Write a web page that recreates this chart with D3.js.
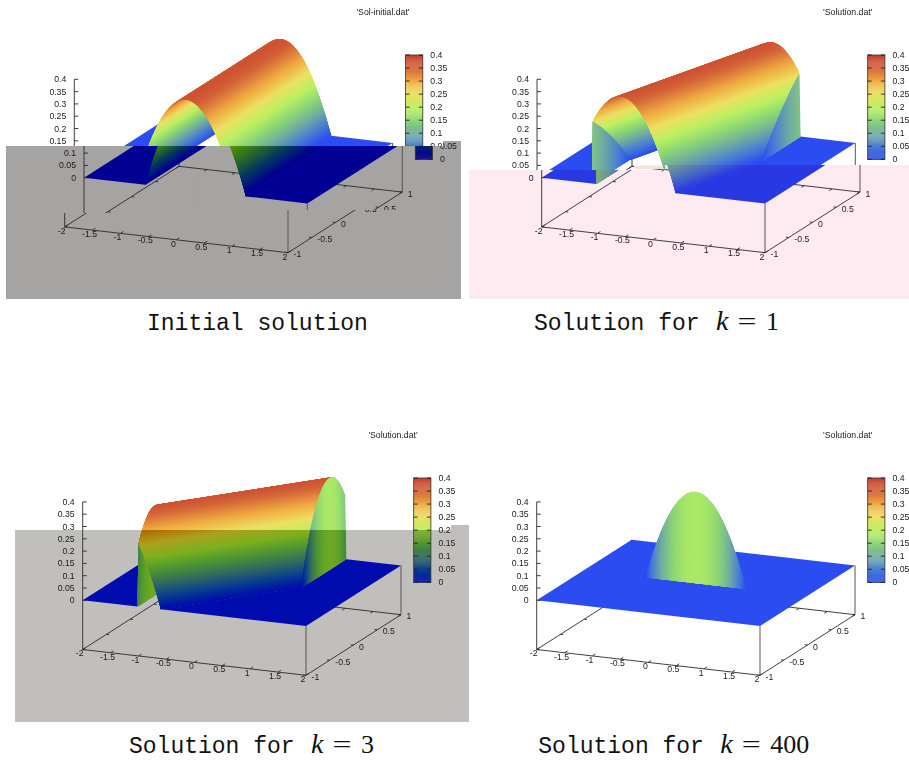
<!DOCTYPE html>
<html>
<head>
<meta charset="utf-8">
<script src="https://cdn.jsdelivr.net/npm/d3@7"></script>
<style>
html,body{margin:0;padding:0;background:#fff;}
svg{display:block;}
.lab{font-family:"Liberation Sans",Arial,sans-serif;font-size:8.7px;fill:#1a1a1a;}
.cap{font-family:"Liberation Mono",monospace;font-size:23px;fill:#111;}
.math{font-family:"Liberation Serif",serif;font-size:26px;fill:#111;}
</style>
</head>
<body>
<svg id="chart" width="909" height="762"></svg>
<script>
// ---- values ----
const xTicks=[-2,-1.5,-1,-0.5,0,0.5,1,1.5,2];
const xLabels=["-2","-1.5","-1","-0.5","0","0.5","1","1.5","2"];
const yTicks=[-1,-0.5,0,0.5,1];
const yLabels=["-1","-0.5","0","0.5","1"];
const zTicks=[0,0.05,0.1,0.15,0.2,0.25,0.3,0.35,0.4];
const zLabels=["0","0.05","0.1","0.15","0.2","0.25","0.3","0.35","0.4"];
const paletteValues=[0,0.05,0.1,0.15,0.2,0.25,0.3,0.35,0.4];
const paletteColors=["#2a4cf0","#4a7fd2","#70aca0","#8cd674","#baf062","#ece062","#f0aa42","#d4663a","#c63a2a"];
// ridge cross-section: height against distance from the crest
const profileX=[-0.9,-0.85,-0.8,-0.75,-0.7,-0.65,-0.6,-0.55,-0.5,-0.45,-0.4,-0.35,-0.3,-0.25,-0.2,-0.15,-0.1,-0.05,0,0.05,0.1,0.15,0.2,0.25,0.3,0.35,0.4,0.45,0.5,0.55,0.6,0.65,0.7,0.75,0.8,0.85,0.9];
const profileZ=[0,0.04,0.078,0.113,0.146,0.177,0.206,0.232,0.256,0.278,0.297,0.314,0.329,0.341,0.352,0.36,0.365,0.369,0.37,0.369,0.365,0.36,0.352,0.341,0.329,0.314,0.297,0.278,0.256,0.232,0.206,0.177,0.146,0.113,0.078,0.04,0];
// crest position (x) against y in each panel
const crestYInitial=[-1,1],  crestXInitial=[0,0];
const crestYK1=[-1,1],       crestXK1=[-0.5,0.5];
const crestYK3=[-1,1],       crestXK3=[-1.5,1.5];
const crestYK400=[-1,-0.01,0,0.01,1], crestXK400=[-9,-9,0,9,9];
const titles=["'Sol-initial.dat'","'Solution.dat'","'Solution.dat'","'Solution.dat'"];
const captions=["Initial solution","Solution for","Solution for","Solution for"];
const captionK=[null,"1","3","400"];

// ---- layout ----
const panels=[
 {id:0,ox:84,oy:177.7,cb:[415.3,55],tx:383,ty:14.5,crestY:crestYInitial,crestX:crestXInitial,
  cap:[147,330],
  bands:[
   {rects:[[0,0,465,141],[0,141,443,146]],dx:-9.7,ov:null},
   {rects:[[6,146,200,213],[200,146,461,210],[443,141,461,146]],dx:0,ov:"#a6a3a3"},
   {rects:[[6,213,461,299],[200,210,461,213]],dx:-19.3,ov:"#a6a3a3"}]},
 {id:1,ox:541.7,oy:177.7,cb:[872.4,55],tx:847.7,ty:14.5,crestY:crestYK1,crestX:crestXK1,
  cap:[534,330],
  bands:[
   {rects:[[465,0,909,165],[465,165,665,170]],dx:-4.7,ov:null},
   {rects:[[469,170,665,299],[665,165,909,299]],dx:0,ov:"#fdebf1"}]},
 {id:2,ox:82.7,oy:600.3,cb:[413.7,478],tx:393,ty:437.5,crestY:crestYK3,crestX:crestXK3,
  cap:[129,753],
  bands:[
   {rects:[[0,340,451,530],[451,340,469,525]],dx:0,ov:null},
   {rects:[[15,530,469,722],[451,525,469,530]],dx:0,ov:"#c1bfbc"}]},
 {id:3,ox:536.7,oy:600.3,cb:[867.7,478],tx:847.7,ty:437.5,crestY:crestYK400,crestX:crestXK400,sheet:true,
  cap:[538.3,753],
  bands:[{rects:[[469,340,909,762]],dx:0,ov:null}]}
];
const ex=[223.3,25.8], ey=[95,-60.6];
const xS=d3.scaleLinear().domain([-2,2]).range([0,1]);
const yS=d3.scaleLinear().domain([-1,1]).range([0,1]);
const zS=d3.scaleLinear().domain([0,0.4]).range([0,98.4]);
const zBase=-0.2, wallFoot=0.02;
const palette=d3.scaleLinear().domain(paletteValues).range(paletteColors).clamp(true);
const profile=d3.scaleLinear().domain(profileX).range(profileZ).clamp(true);
const svg=d3.select("#chart");
const defs=svg.append("defs");

function burn(col,ov){
  if(!ov) return col;
  const a=d3.rgb(col), b=d3.rgb(ov);
  return d3.rgb(Math.max(0,a.r+b.r-255),Math.max(0,a.g+b.g-255),Math.max(0,a.b+b.b-255)).formatHex();
}
function hitsRects(bb,rects){
  return rects.some(r=>bb[0]<r[2]&&bb[2]>r[0]&&bb[1]<r[3]&&bb[3]>r[1]);
}
const quadPath=d3.line();
const lap=5; // each sliver reaches a few slivers ahead so the next ones paint over its edge

function buildCells(p,P){
  const crest=d3.scaleLinear().domain(p.crestY).range(p.crestX);
  const height=(x,y)=>Math.abs(x)>1.001?0:profile(x-crest(y));
  const cells=[];
  const edge=profileX[profileX.length-1];
  const xCols=d3.range(-1,1.0001,0.01);
  if(p.sheet){
    // flat floor, then the thin upright sheet standing on it
    cells.push({pts:[P(-2,1,0),P(2,1,0),P(2,-1,0),P(-2,-1,0)],v:0});
    xCols.forEach((xa,i)=>{
      const xb=xCols[Math.min(i+lap,xCols.length-1)];
      if(xb===xa) return;
      const za=height(xa,0),zb=height(xb,0);
      if(za>0||zb>0) cells.push({pts:[P(xa,0,za),P(xb,0,zb),P(xb,-0.01,0),P(xa,-0.01,0)],v:height(xa+0.005,0)/2});
    });
    return cells;
  }
  const ySteps=d3.range(-1,1.0001,0.01);
  const slope=(p.crestX[1]-p.crestX[0])/(p.crestY[1]-p.crestY[0]);
  // floor on either side of the ridge
  const left=ySteps.map(y=>height(-1,y)>0?-1-wallFoot:crest(y)-edge);
  const right=ySteps.map(y=>height(1,y)>0?1+wallFoot:crest(y)+edge);
  cells.push({pts:[P(-2,-1,0),...ySteps.map((y,i)=>P(Math.max(left[i],-2),y,0)),P(-2,1,0)],v:0});
  cells.push({pts:[P(2,-1,0),...ySteps.map((y,i)=>P(Math.min(right[i],2),y,0)),P(2,1,0)],v:0});
  const wall=(xw,foot)=>{
    ySteps.slice().reverse().forEach((y0,i,rev)=>{
      const y1=rev[Math.min(i+lap,rev.length-1)];
      if(y1===y0) return;
      const z0=height(xw,y0),z1=height(xw,y1);
      if(z0>0||z1>0) cells.push({pts:[P(foot,y0,0),P(xw,y0,z0),P(xw,y1,z1),P(foot,y1,0)],v:height(xw,y0-0.005)/2});
    });
  };
  // upright step at x=-1
  wall(-1,-1-wallFoot);
  // bands running along the crest, far to near
  const yRange=u=>{
    if(slope===0) return [-1,1];
    const a=(-1-u)/slope, b=(1-u)/slope;
    return [Math.max(-1,Math.min(a,b)),Math.min(1,Math.max(a,b))];
  };
  const us=d3.range(-edge,edge+0.0001,0.005);
  us.forEach((ua,i)=>{
    const ub=us[Math.min(i+lap,us.length-1)];
    if(ub===ua) return;
    const za=profile(ua),zb=profile(ub);
    const [a0,a1]=yRange(ua),[b0,b1]=yRange(ub);
    if(a1<=a0||b1<=b0) return;
    const px=(u,y)=>u+crest(y);
    cells.push({pts:[P(px(ua,a0),a0,za),P(px(ub,b0),b0,zb),P(px(ub,b1),b1,zb),P(px(ua,a1),a1,za)],v:profile(ua+0.0025)});
  });
  // upright step at x=1
  wall(1,1+wallFoot);
  return cells;
}

function drawPanel(p){
  const P=(x,y,z)=>[
    p.ox+xS(x)*ex[0]+yS(y)*ey[0],
    p.oy+xS(x)*ex[1]+yS(y)*ey[1]-zS(z)];
  const cells=buildCells(p,P);
  const cbY=d3.scaleLinear().domain([0,0.4]).range([p.cb[1]+104.3,p.cb[1]]);
  const cbRows=d3.range(0,0.4,0.004);

  p.bands.forEach((band,bi)=>{
    const cid=`clip-${p.id}-${bi}`;
    defs.append("clipPath").attr("id",cid).selectAll("rect").data(band.rects).join("rect")
      .attr("x",r=>r[0]).attr("y",r=>r[1]).attr("width",r=>r[2]-r[0]).attr("height",r=>r[3]-r[1]);
    const outer=svg.append("g").attr("clip-path",`url(#${cid})`);
    if(band.ov){
      outer.selectAll("rect.ov").data(band.rects).join("rect").attr("class","ov")
        .attr("x",r=>r[0]).attr("y",r=>r[1]).attr("width",r=>r[2]-r[0]).attr("height",r=>r[3]-r[1])
        .attr("fill",band.ov).attr("stroke",band.ov).attr("stroke-width",0.6);
    }
    const g=outer.append("g").attr("transform",`translate(${band.dx},0)`).style("filter","blur(0.45px)");
    const seg=(a,b,c="#2a2a2a",w=0.9)=>{
      const bb=[Math.min(a[0],b[0])+band.dx-1,Math.min(a[1],b[1])-1,Math.max(a[0],b[0])+band.dx+1,Math.max(a[1],b[1])+1];
      if(!hitsRects(bb,band.rects)) return;
      g.append("path").attr("d",quadPath([a,b])).attr("stroke",c).attr("stroke-width",w).attr("fill","none");
    };
    const label=(t,x,y,anchor,w)=>{
      const x0=anchor==="end"?x-w:anchor==="middle"?x-w/2:x;
      if(!hitsRects([x0+band.dx,y-3.2,x0+w+band.dx,y+3.2],band.rects)) return;
      g.append("text").attr("class","lab").attr("x",x).attr("y",y+3).attr("text-anchor",anchor).text(t);
    };
    // base frame
    seg(P(-2,-1,zBase),P(2,-1,zBase));
    seg(P(2,-1,zBase),P(2,1,zBase));
    seg(P(2,1,zBase),P(-2,1,zBase));
    seg(P(-2,1,zBase),P(-2,-1,zBase));
    seg(P(-2,1,zBase),P(-2,1,0));
    seg(P(2,1,zBase),P(2,1,0),"#555",1);
    seg(P(2,-1,zBase),P(2,-1,0),"#555",1);
    xTicks.forEach(x=>{
      seg(P(x,-1,zBase),P(x,-0.94,zBase));
      seg(P(x,1,zBase),P(x,0.94,zBase));
    });
    yTicks.forEach(y=>{
      seg(P(-2,y,zBase),P(-1.95,y,zBase));
      seg(P(2,y,zBase),P(1.95,y,zBase));
    });
    // surface
    const vis=cells.filter(c=>{
      const xs=c.pts.map(q=>q[0]+band.dx), ys=c.pts.map(q=>q[1]);
      return hitsRects([d3.min(xs)-1,d3.min(ys)-1,d3.max(xs)+1,d3.max(ys)+1],band.rects);
    });
    g.append("g").selectAll("path").data(vis).join("path")
      .attr("d",c=>quadPath(c.pts)+"Z")
      .attr("fill",c=>burn(palette(c.v),band.ov));
    // z axis
    seg(P(-2,-1,zBase),P(-2,-1,0.4));
    zTicks.forEach((z,i)=>{
      const a=P(-2,-1,z);
      seg(a,[a[0]+4,a[1]]);
      label(zLabels[i],a[0]-8,a[1],"end",20);
    });
    xTicks.forEach((x,i)=>{
      const a=P(x,-1,zBase);
      label(xLabels[i],a[0]-3,a[1]+3.8,"middle",18);
    });
    yTicks.forEach((y,i)=>{
      const a=P(2,y,zBase);
      label(yLabels[i],a[0]+5.5,a[1]+1.5,"start",18);
    });
    // colour box
    const cx=p.cb[0],cw=17.2;
    if(hitsRects([cx+band.dx-2,p.cb[1]-2,cx+cw+band.dx+2,p.cb[1]+106],band.rects)){
      g.append("g").selectAll("rect").data(cbRows).join("rect")
        .attr("x",cx).attr("width",cw)
        .attr("y",v=>cbY(v+0.004)).attr("height",v=>cbY(v)-cbY(v+0.004)+0.3)
        .attr("fill",v=>burn(palette(v+0.002),band.ov));
      g.append("rect").attr("x",cx).attr("y",cbY(0.4)).attr("width",cw).attr("height",cbY(0)-cbY(0.4))
        .attr("fill","none").attr("stroke","#333").attr("stroke-width",0.8);
    }
    zTicks.forEach((z,i)=>{
      const y=cbY(z);
      seg([cx,y],[cx+4,y],"#222",0.9);
      seg([cx+cw-4,y],[cx+cw,y],"#222",0.9);
      label(zLabels[i],cx+cw+7.5,y,"start",18);
    });
    // title
    label(titles[p.id],p.tx-band.dx,p.ty-3,"middle",56);
  });

  // caption
  svg.append("text").attr("class","cap").attr("x",p.cap[0]).attr("y",p.cap[1]).text(captions[p.id]);
  if(captionK[p.id]){
    svg.append("text").attr("class","math").attr("font-style","italic").style("font-size","28px").attr("x",p.cap[0]+182).attr("y",p.cap[1]).text("k");
    svg.append("text").attr("class","math").attr("x",p.cap[0]+203.5).attr("y",p.cap[1]).attr("textLength",19).attr("lengthAdjust","spacingAndGlyphs").text("=");
    svg.append("text").attr("class","math").attr("x",p.cap[0]+232).attr("y",p.cap[1]).text(captionK[p.id]);
  }
}
panels.forEach(drawPanel);
// scan smudge left on the sheet between the top and lower parts of the k = 1 plot
svg.append("rect").attr("x",634).attr("y",165.5).attr("width",29).attr("height",3.5).attr("fill","#f3e3d8").style("filter","blur(0.5px)");
</script>
</body>
</html>
